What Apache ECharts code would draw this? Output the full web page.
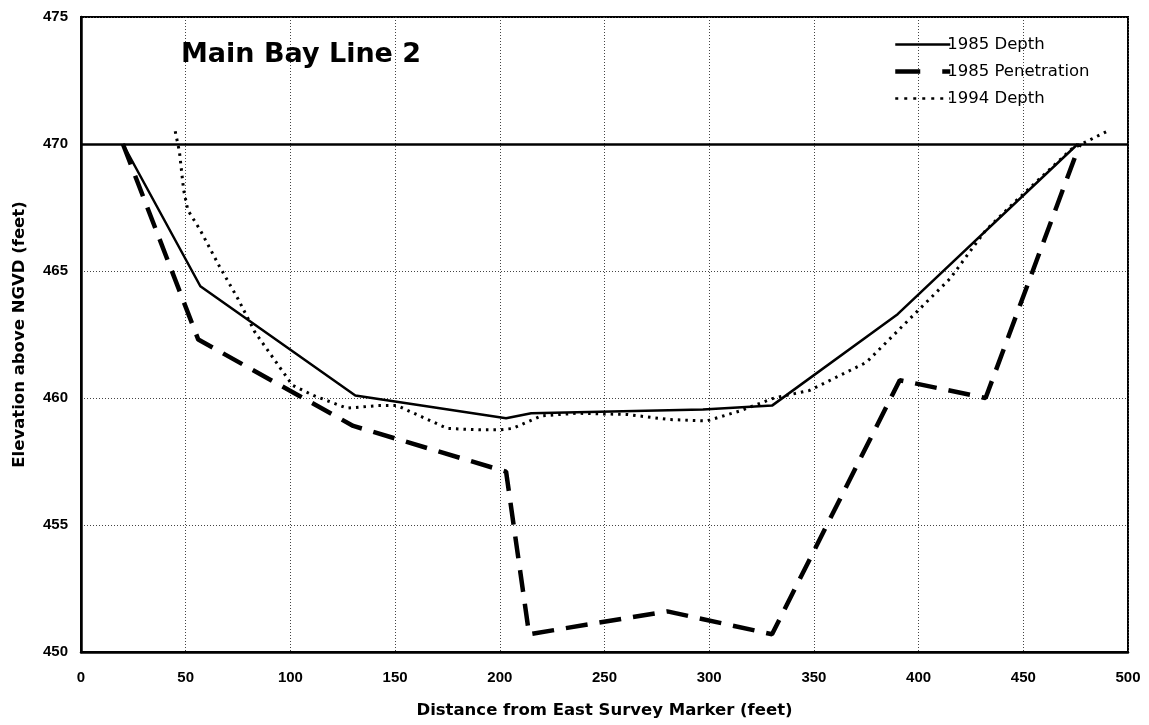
<!DOCTYPE html>
<html>
<head>
<meta charset="utf-8">
<script src="https://cdn.jsdelivr.net/npm/echarts@6/dist/echarts.min.js"></script>
<style>
  html, body { margin: 0; padding: 0; background: #fff; }
  #chart { width: 1149px; height: 725px; }
</style>
</head>
<body>
<div id="chart"></div>
<script>
// Cross-section profile: distance (ft) vs elevation (ft above NGVD)
const depth1985 = [
  [20, 470], [57, 464.4], [131, 460.1], [203, 459.2], [215, 459.4],
  [297, 459.55], [330, 459.7], [390, 463.3], [476, 470]
];
const penetration1985 = [
  [20, 470], [56, 462.3], [130, 458.9], [203, 457.1], [214, 450.7],
  [280, 451.6], [330, 450.7], [391, 460.7], [432, 460.0], [477, 470]
];
const depth1994 = [
  [45, 470.5], [47, 469.7], [49, 468.2], [51, 467.4], [57, 466.6],
  [66, 465.2], [75, 463.9], [83, 462.6], [95, 461.2], [101, 460.5],
  [111, 460.1], [127, 459.6], [142, 459.7], [151, 459.7], [159, 459.4],
  [175, 458.8], [190, 458.75], [200, 458.75], [206, 458.8], [220, 459.3],
  [237, 459.4], [261, 459.35], [281, 459.15], [299, 459.1], [315, 459.5],
  [331, 460], [348, 460.3], [375, 461.4], [398, 463.3], [415, 464.7],
  [432, 466.6], [447, 467.8], [473, 469.8], [490, 470.5]
];
const seriesNames = ['1985 Depth', '1985 Penetration', '1994 Depth'];
const waterLevel = 470;

const wide = '"DejaVu Sans", "Liberation Sans", sans-serif';
const narrow = '"Liberation Sans", Arial, sans-serif';
const chart = echarts.init(document.getElementById('chart'));

chart.setOption({
  animation: false,
  backgroundColor: '#fff',
  title: {
    text: 'Main Bay Line 2',
    left: 176, top: 36,
    textStyle: { fontFamily: wide, fontSize: 27, fontWeight: 'bold', color: '#000' }
  },
  legend: {
    data: [
      { name: seriesNames[0], lineStyle: { color: '#000', width: 2.5, type: 'solid' } },
      { name: seriesNames[1], lineStyle: { color: '#000', width: 4.5, type: [25, 22] } },
      { name: seriesNames[2], lineStyle: { color: '#000', width: 2.5, type: [3, 6] } }
    ],
    orient: 'vertical',
    left: 888, top: 31,
    itemWidth: 55, itemHeight: 14, itemGap: 10,
    itemStyle: { opacity: 0 },
    textStyle: { fontFamily: wide, fontSize: 16.5, color: '#000', padding: [0, 0, 0, -8] }
  },
  grid: {
    left: 81, right: 21, top: 17, bottom: 73,
    show: true, borderColor: '#000', borderWidth: 2, backgroundColor: 'transparent'
  },
  xAxis: {
    type: 'value', min: 0, max: 500, interval: 50,
    name: 'Distance from East Survey Marker (feet)',
    nameLocation: 'middle', nameGap: 50,
    nameTextStyle: { fontFamily: wide, fontSize: 16.5, fontWeight: 'bold', color: '#000' },
    axisLine: { show: true, lineStyle: { color: '#000', width: 2.5 } },
    axisTick: { show: false },
    axisLabel: { fontFamily: narrow, fontSize: 15, fontWeight: 'bold', color: '#000', margin: 18 },
    splitLine: { show: true, lineStyle: { color: '#444', width: 1, type: [1, 2] } }
  },
  yAxis: {
    type: 'value', min: 450, max: 475, interval: 5,
    name: 'Elevation above NGVD (feet)',
    nameLocation: 'middle', nameGap: 53, nameRotate: 90,
    nameTextStyle: { fontFamily: wide, fontSize: 16.5, fontWeight: 'bold', color: '#000' },
    axisLine: { show: true, lineStyle: { color: '#000', width: 2.5 } },
    axisTick: { show: false },
    axisLabel: { fontFamily: narrow, fontSize: 15, fontWeight: 'bold', color: '#000', margin: 13 },
    splitLine: { show: true, lineStyle: { color: '#444', width: 1, type: [1, 2] } }
  },
  series: [
    {
      name: seriesNames[0], type: 'line', data: depth1985,
      showSymbol: false, symbol: 'none',
      lineStyle: { color: '#000', width: 2.5, type: 'solid' },
      itemStyle: { color: '#000' },
      markLine: {
        silent: true, symbol: 'none', label: { show: false },
        lineStyle: { color: '#000', width: 2.5, type: 'solid' },
        data: [{ yAxis: waterLevel }]
      },
      z: 3
    },
    {
      name: seriesNames[1], type: 'line', data: penetration1985,
      showSymbol: false, symbol: 'none',
      lineStyle: { color: '#000', width: 4.5, type: [22, 12] },
      itemStyle: { color: '#000' },
      z: 3
    },
    {
      name: seriesNames[2], type: 'line', data: depth1994,
      showSymbol: false, symbol: 'none',
      lineStyle: { color: '#000', width: 3, type: [2.5, 5] },
      itemStyle: { color: '#000' },
      z: 3
    }
  ]
});
</script>
</body>
</html>
